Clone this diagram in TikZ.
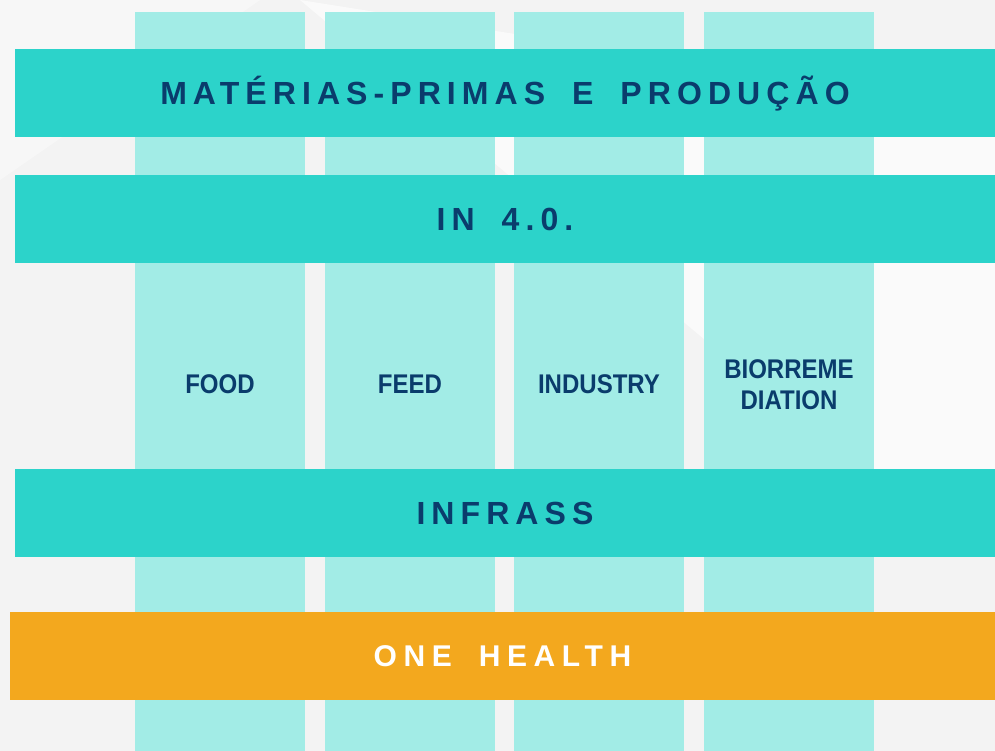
\documentclass[tikz,border=0pt]{standalone}
\usepackage{fontspec}
\usepackage{graphicx}
\setmainfont{Liberation Sans}
\definecolor{bandteal}{HTML}{2CD3CA}
\definecolor{colteal}{HTML}{A2ECE6}
\definecolor{navy}{HTML}{0A3C6C}
\definecolor{onehealth}{HTML}{F3A81E}
\definecolor{backgr}{HTML}{F3F3F3}
\newfontfamily\widefont[LetterSpace=19,WordSpace=1.8]{Liberation Sans}
\newfontfamily\widerfont[LetterSpace=22,WordSpace=1.8]{Liberation Sans}
\newcommand{\narrow}[1]{\scalebox{0.89}[1]{#1}}

\begin{document}
\begin{tikzpicture}[x=1pt,y=-1pt, inner sep=0pt,
  column/.style={fill=colteal, minimum width=170pt, minimum height=739pt},
  band/.style={fill=bandteal, minimum width=980pt, minimum height=88pt, text=navy,
    font=\widefont\bfseries\fontsize{32}{38}\selectfont, text height=23pt, text depth=0pt},
  pillar/.style={text=navy, font=\bfseries\fontsize{27}{31}\selectfont, align=center}]
\useasboundingbox (0,0) rectangle (995,751);
\fill[backgr] (0,0) rectangle (995,751);
\fill[white, opacity=0.6] (300,0) -- (995,110) -- (995,470) -- (860,470) -- cycle;
\fill[white, opacity=0.4] (0,0) -- (260,0) -- (0,180) -- cycle;
% pillars
\node (col1) at (220,381.5) [column] {};
\node (col2) at (410,381.5) [column] {};
\node (col3) at (599,381.5) [column] {};
\node (col4) at (789,381.5) [column] {};
% bands
\node (mat) at (505,93) [band] {MATÉRIAS-PRIMAS E PRODUÇÃO};
\node (in4) at (505,219) [band] {IN 4.0.};
\node (infra) at (505,513) [band] {INFRASS};
\node (health) at (502.5,656) [band, fill=onehealth, minimum width=985pt, text=white,
  font=\widerfont\bfseries\fontsize{30}{36}\selectfont, text height=21.5pt] {ONE HEALTH};
% labels
\node (food) at (220,384.5) [pillar] {\narrow{FOOD}};
\node (feed) at (410,384.5) [pillar] {\narrow{FEED}};
\node (ind) at (599,384.5) [pillar] {\narrow{INDUSTRY}};
\node (bio) at (789,384.5) [pillar] {\narrow{BIORREME}\\\narrow{DIATION}};
\end{tikzpicture}
\end{document}
